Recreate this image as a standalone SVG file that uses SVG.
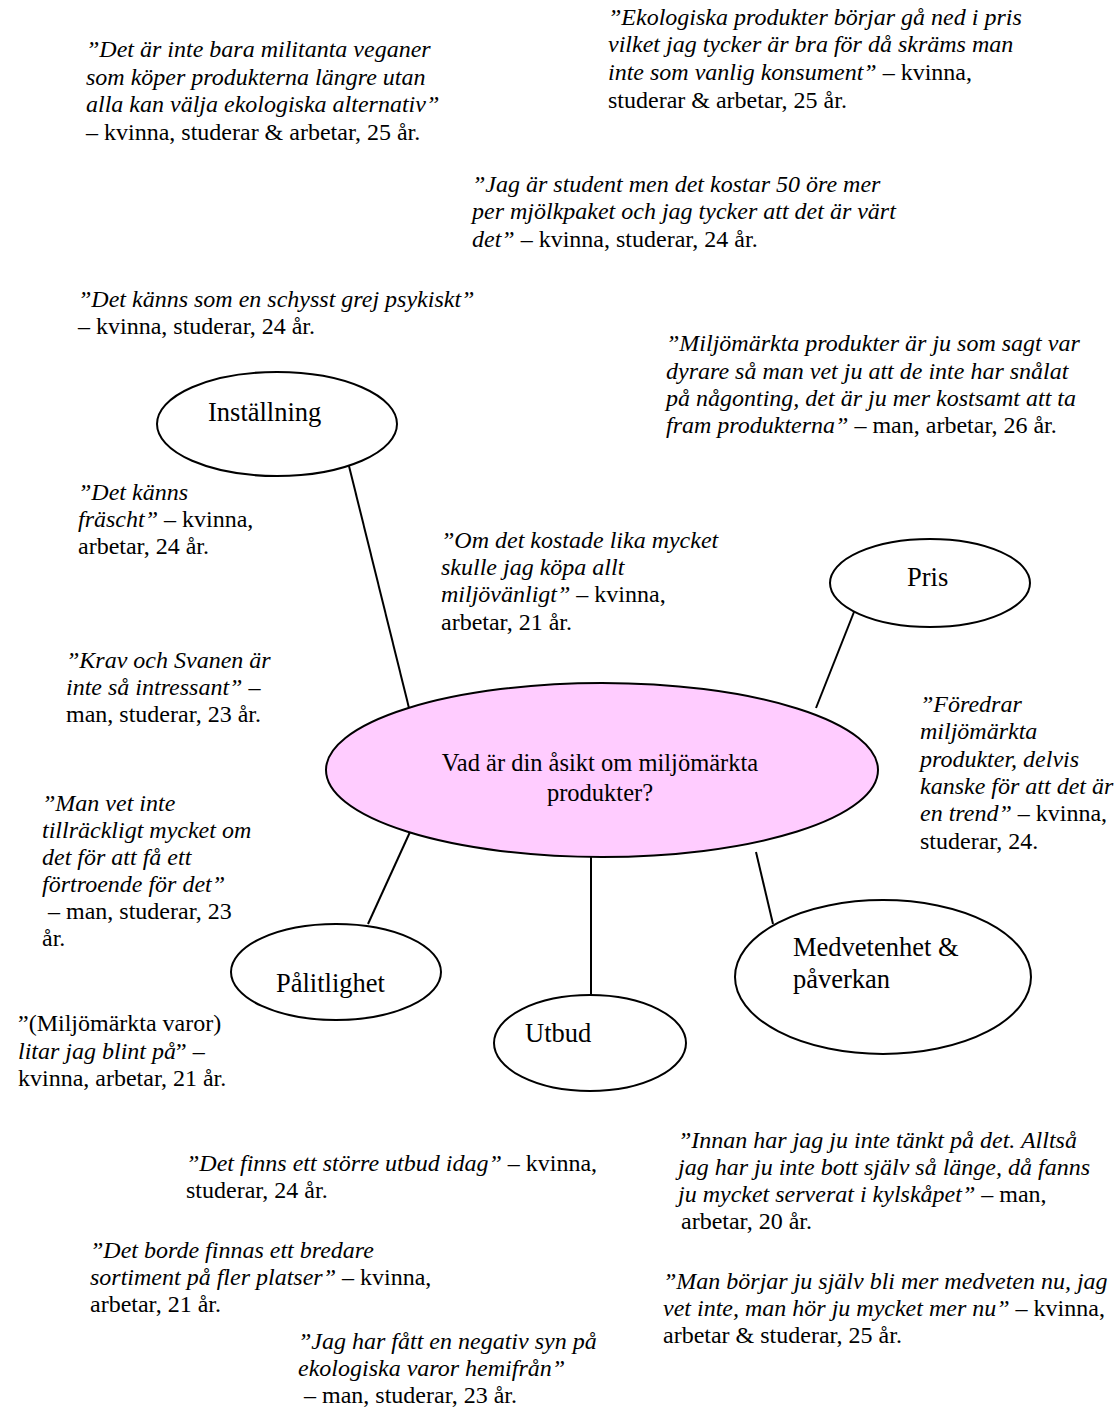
<svg xmlns="http://www.w3.org/2000/svg" width="1118" height="1422" viewBox="0 0 1118 1422">
  <style>
    .q { font-family: "Liberation Serif", "Times New Roman", serif; font-size: 24px; fill: #000; }
    .i { font-style: italic; }
    .lbl { font-family: "Liberation Serif", "Times New Roman", serif; font-size: 26.5px; fill: #000; }
    .big { font-size: 24.5px; }
    .node { fill: #fff; stroke: #000; stroke-width: 2; }
    .center { fill: #ffccff; stroke: #000; stroke-width: 2; }
    .link { stroke: #000; stroke-width: 2; fill: none; }
  </style>
  <rect width="1118" height="1422" fill="#fff"/>

  <!-- spokes from the question to each theme -->
  <g id="connectors">
    <line class="link" x1="349" y1="466" x2="409" y2="708"/>
    <line class="link" x1="854" y1="612" x2="816" y2="708"/>
    <line class="link" x1="410" y1="832" x2="368" y2="924"/>
    <line class="link" x1="591" y1="857" x2="591" y2="995"/>
    <line class="link" x1="756" y1="852" x2="773" y2="924"/>
  </g>

  <g id="node-question">
    <ellipse class="center" cx="602" cy="770" rx="276" ry="87"/>
    <text class="lbl big" x="600" y="771" text-anchor="middle">Vad är din åsikt om miljömärkta</text>
    <text class="lbl big" x="600" y="801" text-anchor="middle">produkter?</text>
  </g>
  <g id="node-installning">
    <ellipse class="node" cx="277" cy="424" rx="120" ry="52"/>
    <text class="lbl" x="208" y="421">Inställning</text>
  </g>
  <g id="node-pris">
    <ellipse class="node" cx="930" cy="583" rx="100" ry="44"/>
    <text class="lbl" x="907" y="586">Pris</text>
  </g>
  <g id="node-palitlighet">
    <ellipse class="node" cx="336" cy="972" rx="105" ry="48"/>
    <text class="lbl" x="276" y="992">Pålitlighet</text>
  </g>
  <g id="node-utbud">
    <ellipse class="node" cx="590" cy="1043" rx="96" ry="48"/>
    <text class="lbl" x="525" y="1042">Utbud</text>
  </g>
  <g id="node-medvetenhet">
    <ellipse class="node" cx="883" cy="977" rx="148" ry="77"/>
    <text class="lbl" x="793" y="956">Medvetenhet &amp;</text>
    <text class="lbl" x="793" y="988">påverkan</text>
  </g>

  <!-- interview quotes -->
  <g id="quotes" class="q">
    <text x="86" y="57" class="i">”Det är inte bara militanta veganer</text>
    <text x="86" y="85" class="i">som köper produkterna längre utan</text>
    <text x="86" y="112" class="i">alla kan välja ekologiska alternativ”</text>
    <text x="86" y="140">– kvinna, studerar &amp; arbetar, 25 år.</text>

    <text x="608" y="25" class="i">”Ekologiska produkter börjar gå ned i pris</text>
    <text x="608" y="52" class="i">vilket jag tycker är bra för då skräms man</text>
    <text x="608" y="80"><tspan class="i">inte som vanlig konsument”</tspan> – kvinna,</text>
    <text x="608" y="108">studerar &amp; arbetar, 25 år.</text>

    <text x="472" y="192" class="i">”Jag är student men det kostar 50 öre mer</text>
    <text x="472" y="219" class="i">per mjölkpaket och jag tycker att det är värt</text>
    <text x="472" y="247"><tspan class="i">det”</tspan> – kvinna, studerar, 24 år.</text>

    <text x="78" y="307" class="i">”Det känns som en schysst grej psykiskt”</text>
    <text x="78" y="334">– kvinna, studerar, 24 år.</text>

    <text x="666" y="351" class="i">”Miljömärkta produkter är ju som sagt var</text>
    <text x="666" y="379" class="i">dyrare så man vet ju att de inte har snålat</text>
    <text x="666" y="406" class="i">på någonting, det är ju mer kostsamt att ta</text>
    <text x="666" y="433"><tspan class="i">fram produkterna”</tspan> – man, arbetar, 26 år.</text>

    <text x="78" y="500" class="i">”Det känns</text>
    <text x="78" y="527"><tspan class="i">fräscht”</tspan> – kvinna,</text>
    <text x="78" y="554">arbetar, 24 år.</text>

    <text x="441" y="548" class="i">”Om det kostade lika mycket</text>
    <text x="441" y="575" class="i">skulle jag köpa allt</text>
    <text x="441" y="602"><tspan class="i">miljövänligt”</tspan> – kvinna,</text>
    <text x="441" y="630">arbetar, 21 år.</text>

    <text x="66" y="668" class="i">”Krav och Svanen är</text>
    <text x="66" y="695" class="i">inte så intressant” –</text>
    <text x="66" y="722">man, studerar, 23 år.</text>

    <text x="920" y="712" class="i">”Föredrar</text>
    <text x="920" y="739" class="i">miljömärkta</text>
    <text x="920" y="767" class="i">produkter, delvis</text>
    <text x="920" y="794" class="i">kanske för att det är</text>
    <text x="920" y="821"><tspan class="i">en trend”</tspan> – kvinna,</text>
    <text x="920" y="849">studerar, 24.</text>

    <text x="42" y="811" class="i">”Man vet inte</text>
    <text x="42" y="838" class="i">tillräckligt mycket om</text>
    <text x="42" y="865" class="i">det för att få ett</text>
    <text x="42" y="892" class="i">förtroende för det”</text>
    <text x="48" y="919">– man, studerar, 23</text>
    <text x="42" y="946">år.</text>

    <text x="18" y="1031">”(Miljömärkta varor)</text>
    <text x="18" y="1059"><tspan class="i">litar jag blint på</tspan>” –</text>
    <text x="18" y="1086">kvinna, arbetar, 21 år.</text>

    <text x="186" y="1171"><tspan class="i">”Det finns ett större utbud idag”</tspan> – kvinna,</text>
    <text x="186" y="1198">studerar, 24 år.</text>

    <text x="678" y="1148" class="i">”Innan har jag ju inte tänkt på det. Alltså</text>
    <text x="678" y="1175" class="i">jag har ju inte bott själv så länge, då fanns</text>
    <text x="678" y="1202"><tspan class="i">ju mycket serverat i kylskåpet”</tspan> – man,</text>
    <text x="681" y="1229">arbetar, 20 år.</text>

    <text x="90" y="1258" class="i">”Det borde finnas ett bredare</text>
    <text x="90" y="1285"><tspan class="i">sortiment på fler platser”</tspan> – kvinna,</text>
    <text x="90" y="1312">arbetar, 21 år.</text>

    <text x="663" y="1289" class="i">”Man börjar ju själv bli mer medveten nu, jag</text>
    <text x="663" y="1316"><tspan class="i">vet inte, man hör ju mycket mer nu”</tspan> – kvinna,</text>
    <text x="663" y="1343">arbetar &amp; studerar, 25 år.</text>

    <text x="298" y="1349" class="i">”Jag har fått en negativ syn på</text>
    <text x="298" y="1376" class="i">ekologiska varor hemifrån”</text>
    <text x="304" y="1403">– man, studerar, 23 år.</text>
  </g>
</svg>
